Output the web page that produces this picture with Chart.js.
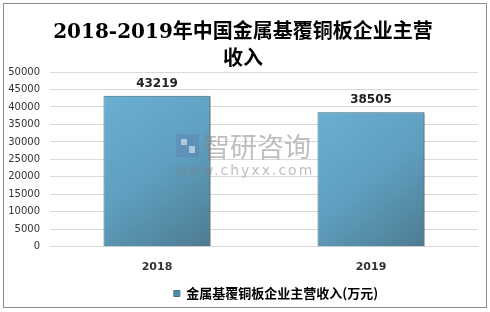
<!DOCTYPE html>
<html><head><meta charset="utf-8">
<script src="https://cdn.jsdelivr.net/npm/chart.js@4/dist/chart.umd.min.js"></script>
<style>html,body{margin:0;padding:0;background:#fff}#w{width:490px;height:312px;position:relative}</style>
</head><body><div id="w"><canvas id="c" width="490" height="312"></canvas></div>
<script>
const categories = ["2018", "2019"];
const values = [43219, 38505];
const seriesName = "金属基覆铜板企业主营收入(万元)";
const titleLines = ["2018-2019年中国金属基覆铜板企业主营", "收入"];
const yMax = 50000, yStep = 5000;

const framePlugin = {
  id: 'frame',
  beforeDraw(chart) {
    const lg = chart.legend;
    if (lg && !lg._shifted) { lg.left += 33; lg.right += 33; lg._shifted = true; }
  },
  afterUpdate(chart) { if (chart.legend) chart.legend._shifted = false; },
  beforeDatasetsDraw(chart) {
    const ctx = chart.ctx;
    ctx.save();
    ctx.shadowColor = 'rgba(0,0,0,0.35)';
    ctx.shadowOffsetX = 2;
    ctx.shadowOffsetY = 1;
    ctx.shadowBlur = 2;
  },
  afterDatasetsDraw(chart) { chart.ctx.restore(); },
  afterDraw(chart) {
    const ctx = chart.ctx;
    ctx.save();
    ctx.strokeStyle = '#8c8c8c';
    ctx.lineWidth = 1;
    ctx.strokeRect(3.5, 3.5, 483, 304);
    ctx.restore();
  }
};
const labelPlugin = {
  id: 'vlabels',
  afterDatasetsDraw(chart) {
    const ctx = chart.ctx;
    const meta = chart.getDatasetMeta(0);
    ctx.save();
    ctx.shadowColor = 'rgba(0,0,0,0)';
    // watermark
    const ca = chart.chartArea;
    const cx = (ca.left + ca.right) / 2;
    ctx.globalAlpha = 0.5;
    ctx.fillStyle = '#808080';
    ctx.textAlign = 'left';
    ctx.textBaseline = 'middle';
    ctx.font = '27px "Noto Sans CJK SC", sans-serif';
    ctx.fillText('智研咨询', cx - 61, 147);
    ctx.font = '14px "DejaVu Sans", sans-serif';
    try { ctx.letterSpacing = '2px'; } catch (e) {}
    ctx.fillText('www.chyxx.com', cx - 89, 171);
    try { ctx.letterSpacing = '0px'; } catch (e) {}
    ctx.fillStyle = '#5b84b0';
    ctx.fillRect(cx - 88, 134, 23, 23);
    ctx.fillStyle = '#ffffff';
    ctx.fillRect(cx - 83, 139, 6, 6);
    ctx.fillRect(cx - 75, 146, 6, 7);
    ctx.globalAlpha = 1;
    ctx.font = 'bold 12px "DejaVu Sans", sans-serif';
    ctx.fillStyle = '#222';
    ctx.textAlign = 'center';
    ctx.textBaseline = 'bottom';
    meta.data.forEach((bar, i) => {
      ctx.fillText(String(chart.data.datasets[0].data[i]), bar.x, bar.y - 6);
    });
    ctx.restore();
  }
};
function barGrad(context) {
  const chart = context.chart;
  const xs = chart.scales.x, ys = chart.scales.y;
  if (!chart.chartArea || !xs || !ys || context.dataIndex === undefined) return '#5f9fbf';
  const cx = xs.getPixelForValue(context.dataIndex);
  const w = (xs.width / categories.length) * 0.5;
  const top = ys.getPixelForValue(values[context.dataIndex]);
  const base = ys.getPixelForValue(0);
  if (!isFinite(cx) || !isFinite(top) || !isFinite(base)) return '#5f9fbf';
  const g = chart.ctx.createLinearGradient(cx - w/2, top, cx + w/2, base);
  g.addColorStop(0, '#6aafd1');
  g.addColorStop(0.5, '#5f9fbf');
  g.addColorStop(1, '#4d7b91');
  return g;
}
new Chart(document.getElementById('c'), {
  type: 'bar',
  data: {
    labels: categories,
    datasets: [{
      label: seriesName,
      data: values,
      backgroundColor: barGrad,
      borderColor: '#3d6d85',
      borderWidth: 1,
      borderSkipped: 'bottom',
      categoryPercentage: 1.0,
      barPercentage: 0.5
    }]
  },
  options: {
    responsive: false,
    animation: false,
    layout: {padding: {left: 8, right: 12, top: 6, bottom: 2}},
    plugins: {
      title: {
        display: true,
        text: titleLines,
        color: '#000',
        font: {family: '"DejaVu Serif", "Noto Sans CJK SC", serif', size: 20, weight: 'bold', lineHeight: 1.35},
        padding: {top: 13, bottom: -1}
      },
      legend: {
        position: 'bottom',
        labels: {
          boxWidth: 6, boxHeight: 6,
          color: '#222',
          font: {family: '"Noto Sans CJK SC", sans-serif', size: 13, weight: 'bold'},
          padding: 7,
          generateLabels(chart) {
            return [{text: seriesName, fillStyle: '#4f8fae', strokeStyle: '#41718a', lineWidth: 1, datasetIndex: 0}];
          }
        }
      },
      tooltip: {enabled: false}
    },
    scales: {
      x: {
        grid: {display: false},
        border: {color: '#d9d9d9'},
        ticks: {color: '#333', font: {family: '"DejaVu Sans", sans-serif', size: 11, weight: 'bold'}, padding: 6}
      },
      y: {
        min: 0, max: yMax,
        afterFit(scale) { scale.width = 42; },
        grid: {color: '#d9d9d9', drawTicks: false},
        border: {display: false},
        ticks: {stepSize: yStep, color: '#333', font: {family: '"DejaVu Sans", sans-serif', size: 10}, padding: 10,
          callback: (v) => String(v)}
      }
    }
  },
  plugins: [framePlugin, labelPlugin]
});
</script></body></html>
